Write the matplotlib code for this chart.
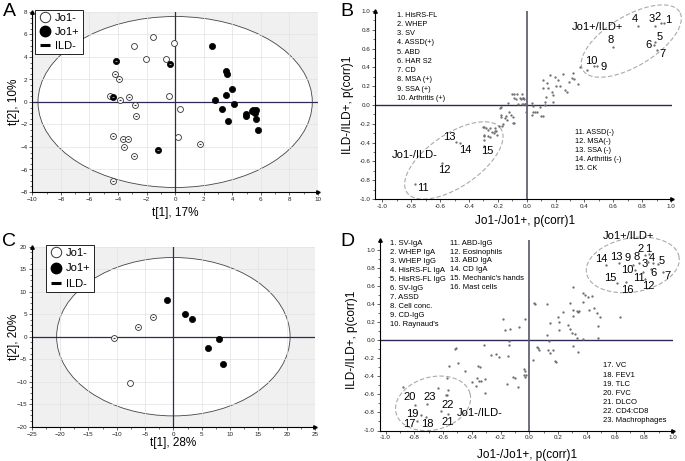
import numpy as np
import matplotlib.pyplot as plt
from matplotlib.patches import Ellipse
from matplotlib.lines import Line2D
from matplotlib.ticker import MultipleLocator

plt.rcParams['font.family'] = ['Liberation Sans', 'DejaVu Sans']

# ---- panel A scores (t[1], t[2]) ----
a_neg_x = [-1.57, -2.89, -0.05, -2.06, -0.63, -0.46, 0.35, 0.23]
a_neg_y = [5.81, 5.01, 5.22, 3.78, 3.83, 0.53, -0.65, -3.07]
a_neg_ild_x = [-4.19, -3.94, -4.58, -3.84, -3.26, -2.80, -2.71, -4.35, -3.68, -3.33, -3.61, -2.89, -4.38, 1.74]
a_neg_ild_y = [2.51, 2.00, 0.50, 0.20, 0.41, -0.24, -1.24, -3.00, -3.27, -3.27, -3.98, -4.78, -7.02, -3.75]
a_pos_x = [2.57, 3.56, 3.63, 4.00, 3.54, 2.80, 4.10, 3.26, 3.73, 4.93, 4.93, 5.37, 5.63, 5.58, 5.67, 5.81, 5.45, 5.55]
a_pos_y = [4.96, 2.74, 2.45, 1.15, 0.65, 0.21, -0.15, -0.65, -1.68, -1.06, -1.24, -0.80, -0.68, -0.94, -1.53, -2.45, -0.75, -0.85]
a_pos_ild_x = [-4.17, -0.35, -1.20, -4.35]
a_pos_ild_y = [3.66, 3.39, -4.28, 0.42]

# ---- panel C scores ----
c_neg_x = [-7.65]
c_neg_y = [-10.2]
c_neg_ild_x = [-3.59, -6.18, -10.47]
c_neg_ild_y = [4.44, 2.07, -0.37]
c_pos_x = [-1.18, 2.12, 3.35, 8.00, 6.18, 8.76]
c_pos_y = [8.15, 5.11, 4.00, -0.52, -2.60, -6.07]

# ---- panel B loadings ----
b_lab_x = [0.95, 0.93, 0.89, 0.77, 0.89, 0.88, 0.905, 0.60, 0.49, 0.466,
           -0.774, -0.59, -0.49, -0.46, -0.296]
b_lab_y = [0.87, 0.87, 0.84, 0.84, 0.67, 0.64, 0.58, 0.62, 0.41, 0.415,
           -0.84, -0.62, -0.39, -0.40, -0.44]
b_x = [-0.30, -0.284, -0.266, -0.254, -0.242, -0.23, -0.22, -0.208, -0.296, -0.296,
       -0.266, -0.254, -0.21, -0.22, -0.185, -0.178, -0.169, -0.145, -0.139, -0.127,
       -0.11, -0.097, -0.092, -0.10, -0.088, -0.088, -0.074, -0.04, -0.035, -0.028,
       -0.018, -0.035, -0.012, -0.065, -0.046, -0.023, -0.058, -0.18, -0.18, -0.123,
       -0.15, -0.088, -0.166, -0.19, -0.007, 0.035, 0.042, 0.057, 0.073, 0.035,
       0.097, 0.046, 0.127, 0.127, 0.134, 0.11, 0.11, 0.138, 0.15, 0.161,
       0.173, 0.184, 0.184, 0.196, 0.203, 0.219, 0.23, 0.254, 0.265, 0.277,
       0.295, 0.312, 0.323, 0.328, 0.358, 0.37, 0.416, -0.023, -0.012, 0.092,
       0.115, -0.296, -0.296]
b_y = [-0.23, -0.25, -0.266, -0.25, -0.284, -0.30, -0.28, -0.32, -0.32, -0.37,
       -0.33, -0.337, -0.28, -0.25, -0.035, -0.124, -0.22, -0.117, -0.16, 0.018,
       -0.106, -0.13, -0.19, 0.117, 0.117, 0.07, 0.06, 0.067, 0.117, 0.07,
       0.06, 0.01, 0.01, 0.114, 0.071, 0.071, 0.01, -0.025, -0.106, -0.078,
       -0.14, -0.19, -0.20, -0.22, -0.071, 0.025, -0.07, -0.07, -0.078, -0.106,
       -0.114, -0.007, 0.035, 0.0, 0.088, 0.184, 0.266, 0.23, 0.178, 0.32,
       0.135, 0.106, 0.029, 0.30, 0.205, 0.266, 0.205, 0.326, 0.16, 0.135,
       0.24, 0.29, 0.337, 0.277, 0.22, 0.407, 0.372, 0.014, 0.014, -0.025,
       -0.117, -0.23, -0.33]
b_list_pos = ['1. HisRS-FL', '2. WHEP', '3. SV', '4. ASSD(+)', '5. ABD', '6. HAR S2',
              '7. CD', '8. MSA (+)', '9. SSA (+)', '10. Arthritis (+)']
b_list_neg = ['11. ASSD(-)', '12. MSA(-)', '13. SSA (-)', '14. Arthritis (-)', '15. CK']

# ---- panel D loadings ----
d_lab_x = [0.835, 0.805, 0.828, 0.858, 0.898, 0.845, 0.928, 0.763, 0.72, 0.735,
           0.79, 0.805, 0.626, 0.534, 0.608, 0.673,
           -0.78, -0.719, -0.756, -0.795, -0.568, -0.614, -0.714]
d_lab_y = [0.95, 0.94, 0.865, 0.847, 0.84, 0.79, 0.75, 0.847, 0.83, 0.77,
           0.755, 0.67, 0.847, 0.83, 0.626, 0.645,
           -0.895, -0.855, -0.829, -0.718, -0.818, -0.785, -0.707]
d_x = [-0.88, -0.633, -0.58, -0.57, -0.181, -0.169, -0.134, -0.072, -0.03, -0.139,
       -0.139, -0.315, -0.51, -0.52, -0.269, -0.232, -0.211, -0.146, -0.354, -0.343,
       -0.493, -0.557, -0.447, -0.366, -0.348, -0.337, -0.308, -0.40, -0.371, -0.308,
       -0.111, -0.10, -0.03, -0.037, -0.03, -0.157, -0.077, -0.57, -0.564,
       0.033, 0.04, 0.121, 0.306, 0.376, 0.388, 0.411, 0.434, 0.283, 0.372,
       0.232, 0.202, 0.302, 0.33, 0.341, 0.348, 0.418, 0.45, 0.473, 0.492,
       0.631, 0.144, 0.209, 0.209, 0.306, 0.271, 0.283, 0.295, 0.318, 0.33,
       0.376, 0.48, 0.48, 0.121, 0.137, 0.051, 0.063, 0.07, 0.132, 0.144,
       0.167, 0.306, 0.341, 0.028, 0.179, 0.183, -0.037, -0.023]
d_y = [-0.523, -0.534, -0.608, -0.61, 0.228, 0.11, 0.118, 0.147, 0.228, -0.011,
       -0.055, -0.055, -0.092, -0.10, -0.166, -0.155, -0.184, -0.177, -0.287, -0.302,
       -0.258, -0.284, -0.343, -0.416, -0.453, -0.45, -0.427, -0.468, -0.508, -0.589,
       -0.405, -0.42, -0.339, -0.387, -0.41, -0.486, -0.516, -0.424, -0.552,
       0.412, 0.40, 0.394, 0.589, 0.523, 0.497, 0.479, 0.486, 0.412, 0.424,
       0.313, 0.251, 0.332, 0.324, 0.313, 0.324, 0.332, 0.35, 0.295, 0.258,
       0.251, 0.184, 0.202, 0.11, 0.265, 0.166, 0.118, 0.074, 0.063, 0.018,
       0.011, 0.155, 0.018, 0.055, -0.011, -0.081, -0.092, -0.11, -0.11, -0.147,
       -0.11, -0.066, -0.129, -0.221, -0.229, -0.245, -0.324, -0.387]
d_list1 = ['1. SV-IgA', '2. WHEP IgA', '3. WHEP IgG', '4. HisRS-FL IgA', '5. HisRS-FL IgG',
           '6. SV-IgG', '7. ASSD', '8. Cell conc.', '9. CD-IgG', "10. Raynaud's"]
d_list2 = ['11. ABD-IgG', '12. Eosinophils', '13. ABD IgA', '14. CD IgA',
           "15. Mechanic's hands", '16. Mast cells']
d_list3 = ['17. VC', '18. FEV1', '19. TLC', '20. FVC', '21. DLCO', '22. CD4:CD8',
           '23. Machrophages']

# label offsets (pixels) for the numbered loadings
b_off = [(4, 3), (-3, 6), (-3, 7), (-3, 7), (5, 5), (-5, 0), (5, -4), (-3, 7), (6, -1), (-3, 5),
         (8, -4), (3, -7), (-7, 5), (5, -7), (3, -5)]
d_off = [(-1, 5), (-4, 6), (-4, -2), (-1, 5), (3, 3), (3, -4), (5, -4), (-2, 6), (-5, 7), (-8, 0),
         (-4, -6), (3, -7), (-3, 6), (-5, 6), (-6, 5), (1, -8),
         (-8, -3), (1, -7), (-8, 1), (-5, 8), (0, -8), (7, 6), (3, 7)]

W, H = 685, 461
fig = plt.figure(figsize=(6.85, 4.61), dpi=100)


def rect(x0, y0, x1, y1):
    return [x0 / W, 1 - y1 / H, (x1 - x0) / W, (y1 - y0) / H]


def txt(x, y, s, **kw):
    fig.text(x / W, 1 - y / H, s, **kw)


def style_axes(ax):
    for side in ['top', 'right']:
        ax.spines[side].set_visible(False)
    for side in ['left', 'bottom']:
        ax.spines[side].set_linewidth(0.8)
    ax.tick_params(labelsize=4.5, length=2, width=0.5, colors='#222222', pad=1.5)
    ax.tick_params(which='minor', length=1.2, width=0.4)
    ax.plot(1, 0, '>', color='k', ms=2.5, transform=ax.transAxes, clip_on=False)
    ax.plot(0, 1, '^', color='k', ms=2.5, transform=ax.transAxes, clip_on=False)


def score_plot(ax, neg, neg_ild, pos, pos_ild, ell, lim, step):
    ax.set_facecolor('#f0f0f0')
    ax.set_axisbelow(True)
    ax.grid(True, color='#e2e2e2', lw=0.5)
    ax.add_patch(Ellipse((0, 0), ell[0], ell[1], fc='white', ec='#444444', lw=0.6, zorder=0.3))
    ax.axhline(0, color='#2b2b55', lw=0.9, zorder=1)
    ax.axvline(0, color='#2b2b55', lw=0.9, zorder=1)
    ax.scatter(neg[0], neg[1], s=18, fc='white', ec='#333333', lw=0.6, zorder=3)
    ax.scatter(neg_ild[0], neg_ild[1], s=18, fc='white', ec='#333333', lw=0.6, zorder=3)
    ax.scatter(neg_ild[0], neg_ild[1], s=4, marker='_', c='#333333', lw=0.8, zorder=4)
    ax.scatter(pos[0], pos[1], s=20, fc='black', ec='black', lw=0.5, zorder=3)
    if pos_ild is not None:
        ax.scatter(pos_ild[0], pos_ild[1], s=20, fc='black', ec='black', lw=0.5, zorder=3)
        ax.scatter(pos_ild[0], pos_ild[1], s=4, marker='_', c='#999999', lw=0.8, zorder=4)
    ax.set_xlim(-lim[0], lim[0])
    ax.set_ylim(-lim[1], lim[1])
    ax.xaxis.set_major_locator(MultipleLocator(step[0]))
    ax.yaxis.set_major_locator(MultipleLocator(step[1]))
    ax.xaxis.set_minor_locator(MultipleLocator(step[0] / 2))
    ax.yaxis.set_minor_locator(MultipleLocator(step[1] / 4))
    style_axes(ax)
    handles = [Line2D([], [], marker='o', ls='', ms=7.5, mfc='white', mec='#333333', mew=0.7),
               Line2D([], [], marker='o', ls='', ms=7.5, mfc='black', mec='black'),
               Line2D([], [], marker='_', ls='', ms=7, mec='black', mew=2.2)]
    return handles


def loading_plot(ax, x, y, lx, ly, off, ells):
    ax.axhline(0, color='#2b2b55', lw=1.0, zorder=1)
    ax.axvline(0, color='#555566', lw=1.2, zorder=1)
    ax.scatter(x, y, s=2.8, c='#707070', lw=0, zorder=3)
    ax.scatter(lx, ly, s=2.8, c='#707070', lw=0, zorder=3)
    for i, (px, py) in enumerate(zip(lx, ly)):
        ax.annotate(str(i + 1), (px, py), xytext=off[i], textcoords='offset pixels',
                    ha='center', va='center', fontsize=8, zorder=4)
    t = np.linspace(0, 2 * np.pi, 200)
    for c, u, v in ells:
        ax.plot(c[0] + u[0] * np.cos(t) + v[0] * np.sin(t),
                c[1] + u[1] * np.cos(t) + v[1] * np.sin(t),
                ls=(0, (4, 2)), color='#aaaaaa', lw=0.8, zorder=2, clip_on=False)
    ax.xaxis.set_major_locator(MultipleLocator(0.2))
    ax.yaxis.set_major_locator(MultipleLocator(0.2))
    ax.xaxis.set_minor_locator(MultipleLocator(0.1))
    ax.yaxis.set_minor_locator(MultipleLocator(0.1))
    ax.xaxis.set_major_formatter(lambda v, p: f'{v:.1f}'.replace('-0.0', '0.0'))
    ax.yaxis.set_major_formatter(lambda v, p: f'{v:.1f}'.replace('-0.0', '0.0'))
    style_axes(ax)


# ---------- A ----------
axA = fig.add_axes(rect(32.3, 12, 318, 192))
h = score_plot(axA, (a_neg_x, a_neg_y), (a_neg_ild_x, a_neg_ild_y), (a_pos_x, a_pos_y),
               (a_pos_ild_x, a_pos_ild_y), (19.2, 15.2), (10, 8), (2, 2))
axA.legend(h, ['Jo1-', 'Jo1+', 'ILD-'], loc='upper left', bbox_to_anchor=(0.008, 1.012),
           fontsize=8, frameon=True, fancybox=False, edgecolor='black', framealpha=1,
           handletextpad=0.2, handlelength=1.3, borderpad=0.3, labelspacing=0.35,
           borderaxespad=0).get_frame().set_linewidth(0.6)
txt(175, 213, 't[1], 17%', ha='center', va='center', fontsize=8.5)
txt(14, 102, 't[2], 10%', ha='center', va='center', rotation=90, fontsize=8.5)

# ---------- C ----------
axC = fig.add_axes(rect(31.7, 246.7, 315, 426.7))
h = score_plot(axC, (c_neg_x, c_neg_y), (c_neg_ild_x, c_neg_ild_y), (c_pos_x, c_pos_y),
               None, (41.2, 35.2), (25, 20), (5, 5))
axC.legend(h, ['Jo1-', 'Jo1+', 'ILD-'], loc='upper left', bbox_to_anchor=(0.05, 1.012),
           fontsize=8, frameon=True, fancybox=False, edgecolor='black', framealpha=1,
           handletextpad=0.2, handlelength=1.3, borderpad=0.3, labelspacing=0.5,
           borderaxespad=0).get_frame().set_linewidth(0.6)
txt(173, 443, 't[1], 28%', ha='center', va='center', fontsize=8.5)
txt(14, 337, 't[2], 20%', ha='center', va='center', rotation=90, fontsize=8.5)

# ---------- B ----------
axB = fig.add_axes(rect(375.2, 11, 672.4, 199))
axB.set_xlim(-1.05, 1.01)
axB.set_ylim(-1.0, 1.0)
loading_plot(axB, b_x, b_y, b_lab_x, b_lab_y, b_off,
             [((0.725, 0.68), (0.335, 0.31), (-0.09, 0.228)),
              ((-0.505, -0.59), (0.325, 0.34), (-0.103, 0.232))])
for i, s in enumerate(b_list_pos):
    axB.text(-0.9, 0.957 - i * 0.0986, s, fontsize=5.3, va='center')
for i, s in enumerate(b_list_neg):
    axB.text(0.335, -0.295 - i * 0.095, s, fontsize=5.3, va='center')
axB.text(0.31, 0.833, 'Jo1+/ILD+', fontsize=8, va='center')
axB.text(-0.936, -0.53, 'Jo1-/ILD-', fontsize=8, va='center')
txt(525, 221, 'Jo1-/Jo1+, p(corr)1', ha='center', va='center', fontsize=8.5)
txt(348, 105, 'ILD-/ILD+, p(corr)1', ha='center', va='center', rotation=90, fontsize=8.5)

# ---------- D ----------
axD = fig.add_axes(rect(379.9, 240.5, 673, 430.5))
axD.set_xlim(-1.04, 1.0)
axD.set_ylim(-1.0, 1.1)
loading_plot(axD, d_x, d_y, d_lab_x, d_lab_y, d_off,
             [((0.72, 0.83), (0.322, 0.09), (-0.033, 0.294)),
              ((-0.67, -0.70), (0.257, 0.11), (-0.047, 0.281))])
axD.set_yticks(np.arange(-1.0, 1.01, 0.2))
for i, s in enumerate(d_list1):
    axD.text(-0.97, 1.068 - i * 0.099, s, fontsize=5.5, va='center')
for i, s in enumerate(d_list2):
    axD.text(-0.552, 1.068 - i * 0.097, s, fontsize=5.5, va='center')
for i, s in enumerate(d_list3):
    axD.text(0.515, -0.287 - i * 0.1, s, fontsize=5.5, va='center')
axD.text(0.51, 1.15, 'Jo1+/ILD+', fontsize=8, ha='left', va='center', clip_on=False)
axD.text(-0.506, -0.81, 'Jo1-/ILD-', fontsize=8, ha='left', va='center')
txt(527, 455, 'Jo1-/Jo1+, p(corr)1', ha='center', va='center', fontsize=8.5)
txt(352, 340, 'ILD-/ILD+, p(corr)1', ha='center', va='center', rotation=90, fontsize=8.5)

# panel letters
for s, x, y in [('A', 9, 12), ('B', 347, 12), ('C', 9, 241), ('D', 347, 241)]:
    txt(x, y, s, ha='center', va='center', fontsize=14)

fig.savefig('out.png', dpi=100)
